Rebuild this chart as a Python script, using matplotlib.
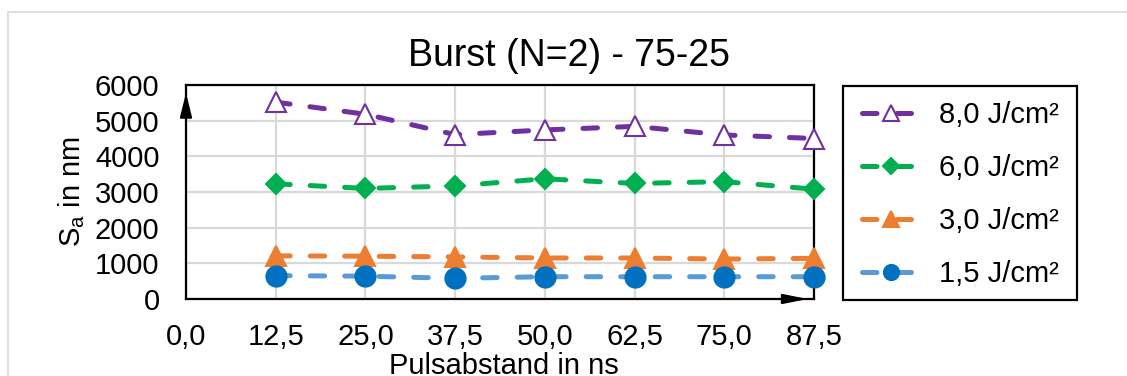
import matplotlib
matplotlib.use("Agg")
import matplotlib.pyplot as plt
from matplotlib.patches import Rectangle

plt.rcParams['font.family'] = ['Liberation Sans', 'DejaVu Sans']
plt.rcParams['mathtext.fontset'] = 'custom'
plt.rcParams['mathtext.rm'] = 'Liberation Sans'
plt.rcParams['mathtext.it'] = 'Liberation Sans'

# Pulse spacing (ns) and surface roughness Sa (nm) per fluence
pulse_spacing = [12.5, 25.0, 37.5, 50.0, 62.5, 75.0, 87.5]
sa_8_0 = [5520, 5180, 4610, 4740, 4840, 4600, 4500]
sa_6_0 = [3230, 3100, 3170, 3370, 3240, 3290, 3080]
sa_3_0 = [1210, 1200, 1180, 1150, 1150, 1120, 1140]
sa_1_5 = [655, 640, 580, 625, 625, 625, 625]

labels = ['8,0 J/cm²', '6,0 J/cm²', '3,0 J/cm²', '1,5 J/cm²']
x_ticks = [0.0, 12.5, 25.0, 37.5, 50.0, 62.5, 75.0, 87.5]
x_ticklabels = ['0,0', '12,5', '25,0', '37,5', '50,0', '62,5', '75,0', '87,5']
y_ticks = [0, 1000, 2000, 3000, 4000, 5000, 6000]

W, H = 1127, 376
fig = plt.figure(figsize=(W / 100, H / 100), dpi=100)

# light outer frame of the chart area
fig.patches.append(Rectangle((8 / W, -0.1), 1.2, 1 - 12 / H + 0.1,
                             transform=fig.transFigure, fill=False,
                             edgecolor='#D9D9D9', linewidth=1.2))

ax = fig.add_axes([186 / W, 1 - 299 / H, 628 / W, 214 / H])

line_kw = dict(linestyle=(0, (2.9, 4.0)), linewidth=3.6, dash_capstyle='round')

series = [
    (sa_8_0, '#7030A0', '#7030A0', '^', 'white', 14.5),
    (sa_6_0, '#00B050', '#00B050', 'D', '#00B050', 10.5),
    (sa_3_0, '#ED7D31', '#ED7D31', '^', '#ED7D31', 15),
    (sa_1_5, '#5B9BD5', '#0070C0', 'o', '#0070C0', 14.5),
]
handles = []
for (vals, lc, mc, mk, mfc, ms), lab in zip(series, labels):
    h, = ax.plot(pulse_spacing, vals, color=lc, marker=mk, markersize=ms,
                 markerfacecolor=mfc, markeredgecolor=mc, markeredgewidth=1.5,
                 label=lab, clip_on=False, zorder=3, **line_kw)
    handles.append(h)

ax.set_xlim(0, 87.5)
ax.set_ylim(0, 6000)
ax.set_xticks(x_ticks)
ax.set_xticklabels(x_ticklabels)
ax.set_yticks(y_ticks)
ax.tick_params(axis='y', length=0, labelsize=21, pad=19)
ax.tick_params(axis='x', length=0, labelsize=21, pad=17)
ax.grid(True, color='#D9D9D9', linewidth=1.6)
ax.set_axisbelow(True)
for s in ax.spines.values():
    s.set_color('black')
    s.set_linewidth(1.6)

# axis arrows
ax.annotate('', xy=(0, 0.963), xytext=(0, 0.86), xycoords='axes fraction',
            arrowprops=dict(arrowstyle='-|>,head_length=1.45,head_width=0.36',
                            color='black', lw=1.6, shrinkA=0, shrinkB=0))
ax.annotate('', xy=(0.99, 0), xytext=(0.95, 0), xycoords='axes fraction',
            arrowprops=dict(arrowstyle='-|>,head_length=1.45,head_width=0.29',
                            color='black', lw=1.6, shrinkA=0, shrinkB=0))

fig.text(569 / W, 1 - 56 / H, 'Burst (N=2) - 75-25', fontsize=27,
         ha='center', va='center')
fig.text(72 / W, 1 - 191 / H, r'S$_\mathrm{a}$ in nm', fontsize=21,
         rotation=90, ha='center', va='center')
fig.text(504 / W, 1 - 374 / H, 'Pulsabstand in ns', fontsize=21,
         ha='center', va='baseline')

# legend box and entries
fig.patches.append(Rectangle((843 / W, 1 - 300 / H), 234 / W, 214 / H,
                             transform=fig.transFigure, fill=False,
                             edgecolor='black', linewidth=1.6, zorder=5))
leg = fig.legend(handles=handles, loc='upper left',
                 bbox_to_anchor=(862 / W, 1 - 101 / H), fontsize=21,
                 frameon=False, handlelength=2.0, handletextpad=0.65,
                 labelspacing=0.86, borderpad=0, borderaxespad=0,
                 markerscale=0.75)

fig.savefig('out.png', dpi=100)
